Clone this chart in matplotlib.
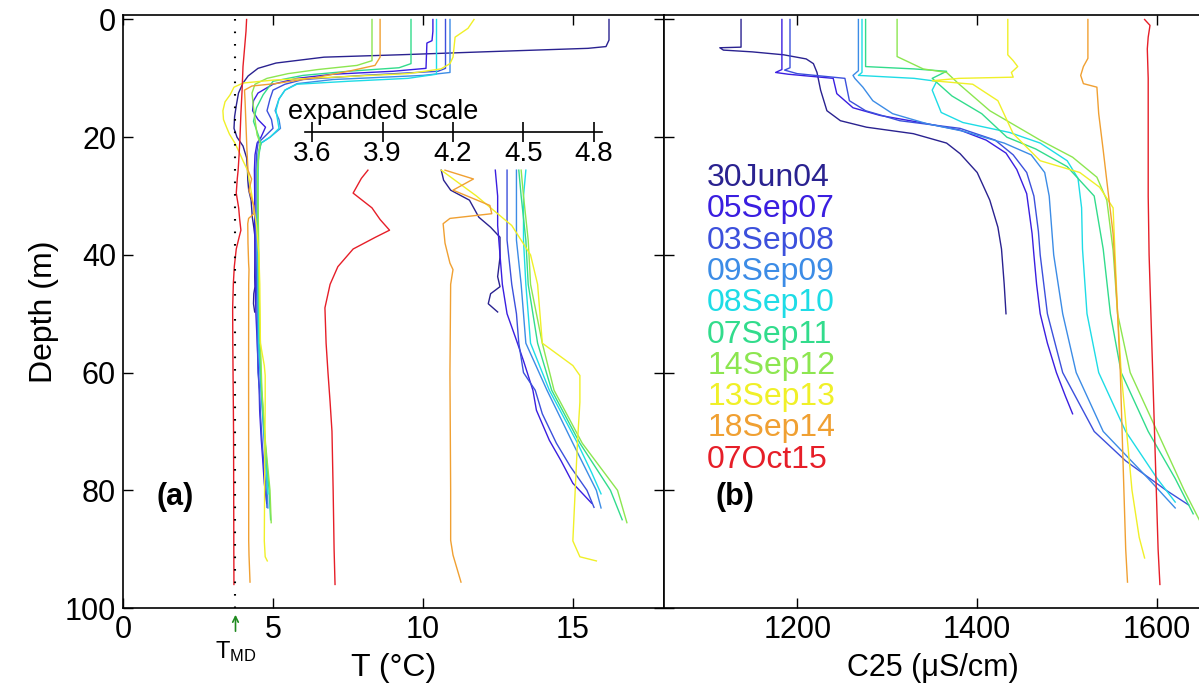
import matplotlib
matplotlib.use("Agg")
import matplotlib.pyplot as plt
import numpy as np

plt.rcParams["font.family"] = ["Liberation Sans", "DejaVu Sans"]
plt.rcParams["mathtext.fontset"] = "custom"
plt.rcParams["mathtext.rm"] = "Liberation Sans"
plt.rcParams["mathtext.it"] = "Liberation Sans"

dates = ["30Jun04", "05Sep07", "03Sep08", "09Sep09", "08Sep10",
         "07Sep11", "14Sep12", "13Sep13", "18Sep14", "07Oct15"]
colors = ["#2a2290", "#3a1ee0", "#3c50dc", "#3c8ce6", "#1edce6",
          "#32dc8c", "#8ce650", "#f0f028", "#f0a032", "#e61e28"]

# temperature profiles (depth m, T degC)
t_depth = {
    "30Jun04": [0, 3.5, 4.6, 4.9, 5.5, 6.0, 6.4, 7.4, 8.3, 9.6, 10.8, 12.5, 14.5, 16.5, 18.5, 20, 21.5,
                23.5, 25.6, 27.3, 29, 30.7, 33.6, 35.3, 37, 40.4, 43.7, 45.4, 46.6, 48.3, 49.7],
    "05Sep07": [0, 2, 3.6, 4, 8.3, 8.8, 9.3, 10, 11, 12.5, 13.8, 15.5, 17, 18.3, 20, 21, 23, 25.6, 30,
                35, 40, 45, 50, 54.5, 58, 63, 66.4, 71.5, 75, 78.8, 82.2],
    "03Sep08": [0, 8.3, 8.8, 9.5, 10.2, 11, 12, 13.5, 15.5, 17, 18.5, 20, 21, 23, 25.6, 30, 37.5, 45,
                50, 55, 60, 63, 67, 72, 76, 80, 82.9],
    "09Sep09": [0, 9, 9.5, 10.2, 10.9, 12, 13.5, 15.5, 17, 18.5, 20, 21, 23, 25.6, 30, 37.5, 45, 55,
                63, 72, 76, 80, 83],
    "08Sep10": [0, 9.3, 10, 10.5, 11, 12, 13.5, 15.5, 17, 18.5, 20, 21, 22.5, 25.6, 30, 37.5, 45, 55,
                63, 72, 77, 80.6],
    "07Sep11": [0, 7.5, 8.2, 8.8, 9.5, 10.5, 12.8, 15, 17.3, 19.5, 21, 23, 25.6, 30, 37.5, 45, 55, 63,
                72, 80, 85],
    "14Sep12": [0, 7.0, 7.8, 8.5, 9.2, 10, 11, 12.5, 14.9, 17, 19.6, 21, 23, 25.6, 30, 37.5, 45, 55,
                63, 72, 80, 85.5],
    "13Sep13": [0, 1.5, 3, 6.4, 7.5, 8.4, 9.2, 9.8, 10.3, 10.8, 11.5, 12.8, 14, 15.5, 17, 18.3, 19.5,
                21, 22.5, 24, 25.6, 30, 35, 40, 45, 55, 58.8, 60.5, 65, 71.6, 80, 88.6, 91.3, 92],
    "18Sep14": [0, 6.4, 7.8, 8.7, 9.8, 10.9, 11.3, 12, 14, 18, 22, 25.6, 27.1, 29, 31.6, 33, 33.8,
                34.7, 38, 41.4, 42.5, 45, 60, 80, 88.5, 91, 95.6],
    "07Oct15": [0, 2, 5, 8, 12, 16, 20, 23, 25.6, 27, 29.5, 32, 34, 35.8, 37, 39, 42, 45, 49, 55, 60,
                65, 70, 80, 90, 96],
}
t_value = {
    "30Jun04": [16.2, 16.2, 16.1, 15.5, 12.0, 9.2, 6.7, 5.1, 4.5, 4.17, 4.0, 3.85, 3.78, 3.72, 3.7,
                3.8, 4.0, 4.12, 4.15, 4.16, 4.19, 4.27, 4.31, 4.36, 4.40, 4.40, 4.39, 4.40, 4.36, 4.35,
                4.39],
    "05Sep07": [10.33, 10.33, 10.3, 10.13, 10.1, 9.0, 7.0, 5.8, 5.0, 4.5, 4.35, 4.32, 4.5, 4.75, 4.6,
                4.47, 4.4, 4.38, 4.39, 4.39, 4.40, 4.41, 4.43, 4.47, 4.50, 4.54, 4.555, 4.61, 4.66,
                4.71, 4.79],
    "03Sep08": [10.75, 10.75, 10.5, 8.0, 6.0, 5.4, 5.0, 4.9, 4.8, 4.95, 5.0, 4.7, 4.5, 4.45, 4.43,
                4.43, 4.43, 4.45, 4.47, 4.48, 4.5, 4.55, 4.58, 4.64, 4.7, 4.77, 4.80],
    "09Sep09": [10.9, 10.9, 10.0, 7.0, 5.8, 5.4, 5.2, 5.07, 5.2, 5.25, 4.9, 4.6, 4.5, 4.47, 4.47,
                4.47, 4.49, 4.51, 4.60, 4.71, 4.76, 4.81, 4.83],
    "08Sep10": [10.45, 10.45, 9.5, 7.5, 5.8, 5.4, 5.2, 5.1, 5.15, 5.2, 4.9, 4.6, 4.52, 4.51, 4.50,
                4.50, 4.51, 4.53, 4.61, 4.73, 4.79, 4.83],
    "07Sep11": [9.6, 9.6, 9.2, 7.5, 6.0, 5.0, 4.67, 4.45, 4.35, 4.5, 4.6, 4.53, 4.48, 4.49, 4.51,
                4.52, 4.56, 4.62, 4.74, 4.87, 4.92],
    "14Sep12": [8.3, 8.3, 7.8, 6.5, 5.5, 4.8, 4.4, 4.3, 4.35, 4.4, 4.47, 4.57, 4.52, 4.49, 4.50,
                4.52, 4.53, 4.58, 4.63, 4.75, 4.90, 4.94],
    "13Sep13": [11.7, 11.5, 11.07, 11.0, 10.9, 10.6, 9.5, 7.0, 5.0, 4.0, 3.7, 3.57, 3.4, 3.33, 3.35,
                3.45, 3.55, 3.73, 3.87, 4.0, 4.15, 4.3, 4.45, 4.53, 4.56, 4.58, 4.71, 4.74, 4.74,
                4.73, 4.72, 4.71, 4.74, 4.81],
    "18Sep14": [8.57, 8.57, 8.4, 7.6, 6.5, 5.07, 4.3, 4.05, 4.07, 4.1, 4.13, 4.166, 4.287, 4.2,
                4.357, 4.365, 4.187, 4.158, 4.166, 4.187, 4.2, 4.19, 4.187, 4.19, 4.19, 4.2, 4.234],
    "07Oct15": [4.12, 4.1, 4.05, 4.0, 3.97, 3.93, 3.9, 3.87, 3.838, 3.81, 3.775, 3.855, 3.89, 3.93,
                3.87, 3.775, 3.71, 3.677, 3.655, 3.66, 3.668, 3.677, 3.685, 3.69, 3.694, 3.698],
}

# conductivity profiles (depth m, C25 uS/cm)
c_depth = {
    "30Jun04": [0, 4.7, 4.8, 5.2, 5.5, 6.0, 6.7, 7.5, 9, 12, 15.5, 17.2, 18.3, 19.4, 21, 22.8, 26,
                30.7, 35.3, 39, 45, 50],
    "05Sep07": [0, 8.5, 9, 9.3, 10, 12.6, 15, 16.3, 17.7, 18.8, 20.5, 22.7, 25.5, 29.6, 36.4, 40,
                45, 50, 55, 60, 64, 67],
    "03Sep08": [0, 8.2, 8.6, 9.2, 10, 13.8, 15.5, 17.2, 18.5, 20.5, 23, 26, 30, 36, 40, 50, 60, 70,
                75, 80, 82.5],
    "09Sep09": [0, 8.7, 9.5, 10, 11.5, 13.8, 16, 17.7, 19, 21, 23, 26, 30, 36, 40, 50, 60, 70, 78,
                83],
    "08Sep10": [0, 9.0, 9.5, 10, 10.5, 12, 15.8, 17.5, 19.2, 21, 24, 27, 32, 39, 50, 60, 70, 78, 82],
    "07Sep11": [0, 8.0, 8.4, 8.8, 10, 13, 16, 20, 22, 25, 30, 39, 50, 60, 70, 78, 84],
    "14Sep12": [0, 6.3, 8.4, 9.0, 11, 15.5, 20.5, 23.4, 26.8, 30.7, 39.2, 50, 60, 70, 80, 86],
    "13Sep13": [0, 6, 7, 8, 9, 9.8, 10, 10.4, 11, 13.8, 19.4, 24, 26, 28.5, 32, 39.3, 50, 60, 70, 80,
                88, 91.5],
    "18Sep14": [0, 6.6, 8, 9.5, 10.9, 11.5, 16, 22.2, 30, 36.4, 50, 60, 70, 80, 90, 95.6],
    "07Oct15": [0, 1, 3, 5, 10, 20, 30, 40, 50, 60, 70, 80, 90, 96],
}
c_value = {
    "30Jun04": [1137.6, 1137.6, 1114, 1118, 1150, 1185, 1210, 1218, 1222, 1226, 1233, 1248, 1277,
                1329, 1366, 1381, 1400, 1414, 1423, 1427, 1430, 1432],
    "05Sep07": [1183, 1183, 1176, 1190, 1240, 1244, 1262, 1292, 1344, 1381, 1410, 1432, 1444, 1455,
                1461, 1463, 1466, 1470, 1478, 1488, 1498, 1506],
    "03Sep08": [1192, 1192, 1186, 1200, 1253, 1258, 1276, 1314, 1381, 1420, 1440, 1455, 1463, 1468,
                1470, 1478, 1495, 1530, 1565, 1610, 1635],
    "09Sep09": [1268, 1268, 1262, 1264, 1273, 1284, 1306, 1344, 1385, 1430, 1460, 1475, 1480, 1483,
                1485, 1495, 1510, 1540, 1590, 1620],
    "08Sep10": [1272, 1272, 1268, 1330, 1355, 1350, 1360, 1384, 1436, 1470, 1500, 1512, 1516, 1517,
                1522, 1535, 1565, 1600, 1620],
    "07Sep11": [1276, 1276, 1330, 1366, 1350, 1372, 1405, 1433, 1465, 1500, 1530, 1540, 1548, 1560,
                1590, 1620, 1640],
    "14Sep12": [1311, 1311, 1340, 1366, 1380, 1414, 1470, 1506, 1533, 1544, 1551, 1556, 1570, 1600,
                1630, 1650],
    "13Sep13": [1434, 1434, 1440, 1445, 1438, 1440, 1380, 1350, 1395, 1423, 1440, 1470, 1514, 1536,
                1551, 1553, 1556, 1560, 1566, 1572, 1580, 1586],
    "18Sep14": [1523, 1523, 1518, 1515, 1518, 1533, 1535, 1540, 1546, 1551, 1556, 1559, 1561, 1563,
                1565, 1567],
    "07Oct15": [1586, 1592, 1590, 1589, 1590, 1590, 1590, 1591, 1593, 1595, 1597, 1599, 1601, 1603],
}

T_MD = 3.75
exp_top = 25.5          # depth where the expanded-scale copy starts
exp_ticks = [3.6, 3.9, 4.2, 4.5, 4.8]

W, H = 1199, 692
fig = plt.figure(figsize=(W / 100, H / 100), dpi=100)


def frame(l, t, r, b):
    return [l / W, 1 - b / H, (r - l) / W, (b - t) / H]


ax_a = fig.add_axes(frame(123, 15, 664, 608))
ax_b = fig.add_axes(frame(664, 15, 1201, 608), sharey=ax_a)
ax_x = fig.add_axes(frame(123, 15, 664, 608), sharey=ax_a)  # expanded temperature scale
ax_x.set_facecolor("none")
ax_x.axis("off")

for d in dates:
    c = colors[dates.index(d)]
    z = np.array(t_depth[d])
    t = np.array(t_value[d])
    ax_a.plot(t, z, color=c, lw=1.0)
    m = z >= exp_top
    ax_x.plot(t[m], z[m], color=c, lw=1.0)
    ax_b.plot(c_value[d], c_depth[d], color=c, lw=1.0)

ax_a.plot([T_MD, T_MD], [0, 100], color="k", lw=1.5, ls=(0, (0.8, 5.2)))

ax_a.set_xlim(0, (664 - 123) / 30)
ax_a.set_ylim(100, -4.5 / 5.89)
ax_x.set_xlim(3.6 - 189 / 235, 3.6 + 352 / 235)
ax_b.set_xlim(1052, 1052 + 537 / 0.9)

ax_a.set_xticks([0, 5, 10, 15])
ax_a.set_yticks([0, 20, 40, 60, 80, 100])
ax_b.set_xticks([1200, 1400, 1600])

ax_a.tick_params(direction="in", length=7, width=1.0, top=True, right=True, labelsize=22, pad=5)
ax_b.tick_params(direction="in", length=7, width=1.0, top=True, right=False, labelleft=False,
                 labelsize=22, pad=5)
for ax in (ax_a, ax_b):
    for s in ax.spines.values():
        s.set_linewidth(1.2)
ax_b.spines["right"].set_visible(False)

ax_a.set_ylabel("Depth (m)", fontsize=23, labelpad=4)
ax_a.set_xlabel("T (\u00b0C)", fontsize=23, labelpad=6)
ax_b.set_xlabel("C25 (\u03bcS/cm)", fontsize=22, labelpad=6)

ax_a.text((175 - 123) / 541, (608 - 497) / 593, "(a)", transform=ax_a.transAxes, fontsize=22,
          fontweight="bold", ha="center", va="center")
ax_b.text((735 - 664) / 535, (608 - 497) / 593, "(b)", transform=ax_b.transAxes, fontsize=22,
          fontweight="bold", ha="center", va="center")

# T_MD marker under the axis
ax_a.annotate("", xy=(T_MD, -4 / 593), xytext=(T_MD, -26 / 593),
              xycoords=("data", "axes fraction"), textcoords=("data", "axes fraction"),
              arrowprops=dict(arrowstyle="->", color="#1f8a1f", lw=1.2), annotation_clip=False)
ax_a.text(T_MD, -44 / 593, r"T$_{\mathrm{MD}}$", transform=ax_a.get_xaxis_transform(),
          fontsize=17, ha="center", va="center")

# expanded-scale bar
ax_s = fig.add_axes(frame(305, 131, 602, 131.5))
ax_s.set_xlim(3.6 - 7 / 235, 4.8 + 8 / 235)
ax_s.set_facecolor("none")
for k in ("top", "left", "right"):
    ax_s.spines[k].set_visible(False)
ax_s.spines["bottom"].set_linewidth(1.2)
ax_s.set_yticks([])
ax_s.set_xticks(exp_ticks)
ax_s.set_xticklabels([f"{v:.1f}" for v in exp_ticks])
ax_s.tick_params(axis="x", direction="inout", length=14, width=1.2, labelsize=20, pad=0)
fig.text(383 / W, 1 - 112 / H, "expanded scale", fontsize=19.5, ha="center", va="center")

# date labels
for i, (d, c) in enumerate(zip(dates, colors)):
    ax_b.text((707 - 664) / 535, (608 - 178 - i * 31.3) / 593, d, color=c, fontsize=23,
              transform=ax_b.transAxes, ha="left", va="center")

fig.savefig("out.png", dpi=100)
